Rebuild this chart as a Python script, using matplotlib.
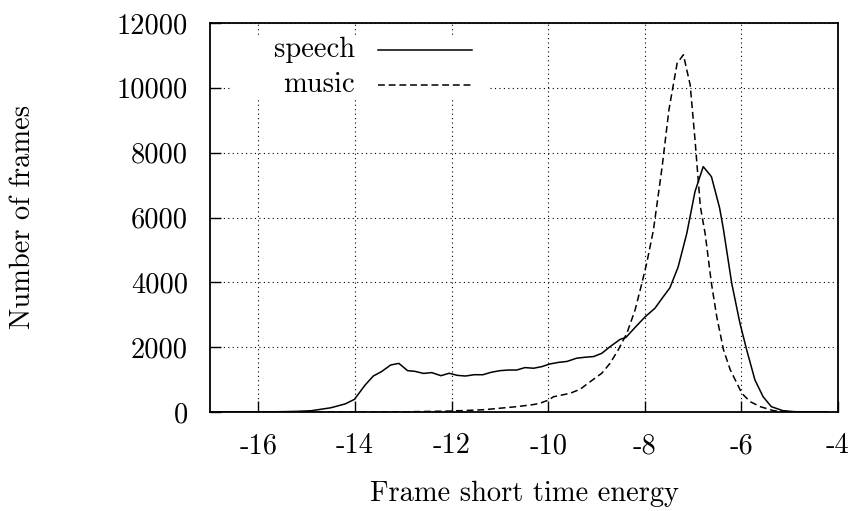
import matplotlib
matplotlib.use("Agg")
import matplotlib.pyplot as plt
from matplotlib.lines import Line2D
from matplotlib.patches import Rectangle

speech_x = [-17.0, -16.5, -16.0, -15.5, -15.2, -14.9, -14.5, -14.2, -14.01, -13.79, -13.62,
            -13.45, -13.26, -13.09, -12.91, -12.76, -12.58, -12.41, -12.22, -12.05, -11.88,
            -11.71, -11.53, -11.35, -11.18, -11.00, -10.82, -10.65, -10.48, -10.30, -10.13,
            -9.97, -9.79, -9.61, -9.41, -9.23, -9.06, -8.89, -8.72, -8.51, -8.39, -8.20,
            -7.99, -7.79, -7.64, -7.48, -7.31, -7.13, -6.96, -6.79, -6.62, -6.45, -6.37,
            -6.20, -6.03, -5.89, -5.72, -5.55, -5.38, -5.14, -4.90, -4.50, -4.20]
speech_y = [0, 0, 2, 10, 20, 40, 130, 250, 390, 830, 1110,
            1245, 1450, 1500, 1275, 1255, 1190, 1215, 1120, 1195, 1130,
            1110, 1150, 1150, 1225, 1275, 1295, 1295, 1370, 1350, 1400,
            1480, 1530, 1560, 1660, 1690, 1710, 1810, 2015, 2240, 2300, 2610,
            2940, 3200, 3510, 3830, 4470, 5510, 6800, 7570, 7260, 6290, 5620,
            3970, 2740, 1915, 990, 470, 165, 40, 10, 0, 0]

music_x = [-17.0, -15.0, -14.0, -13.0, -12.0, -11.33, -10.65, -10.30, -10.17, -9.99, -9.89,
           -9.55, -9.34, -9.13, -8.89, -8.72, -8.55, -8.37, -8.20, -8.06, -7.96, -7.82,
           -7.64, -7.50, -7.33, -7.20, -7.06, -6.96, -6.85, -6.75, -6.62, -6.51, -6.37,
           -6.23, -5.99, -5.82, -5.61, -5.33, -5.00, -4.50, -4.20]
music_y = [0, 0, 0, 5, 30, 70, 165, 230, 270, 370, 470,
           575, 700, 935, 1195, 1500, 1915, 2430, 3150, 3970, 4590, 5620,
           7570, 9320, 10760, 11020, 10090, 8400, 6340, 5500, 3970, 2940, 1915,
           1300, 575, 320, 165, 40, 5, 0, 0]

x_ticks = [-16, -14, -12, -10, -8, -6, -4]
y_ticks = [0, 2000, 4000, 6000, 8000, 10000, 12000]

FS = 20.5
plt.rcParams['font.family'] = ['cmr10', 'DejaVu Serif']
plt.rcParams['axes.unicode_minus'] = False

fig = plt.figure(figsize=(8.54, 5.11), dpi=100)
ax = fig.add_axes([210/854, 1-412/511, 628/854, 389/511])

ax.plot(speech_x, speech_y, color='black', lw=1.1, zorder=3)
ax.plot(music_x, music_y, color='black', lw=1.1, dashes=(4.5, 2.5), zorder=3)

ax.set_xlim(-17, -4)
ax.set_ylim(0, 12000)
ax.set_xticks(x_ticks)
ax.set_xticklabels([str(v) for v in x_ticks])
ax.set_yticks(y_ticks)
ax.set_yticklabels([str(v) for v in y_ticks])
ax.tick_params(direction='in', length=8, width=1.0, labelsize=FS)
ax.tick_params(axis='x', pad=15)
ax.tick_params(axis='y', pad=16)
ax.grid(True, color='black', linestyle=(0, (1, 3)), lw=0.8)
for s in ax.spines.values():
    s.set_linewidth(1.3)

fig.text(524/854, 1-494/511, 'Frame short time energy', fontsize=FS,
         ha='center', va='center')
fig.text(23/854, 1-217/511, 'Number of frames', fontsize=FS, rotation=90,
         ha='center', va='center')

# legend (gnuplot style)
ax.add_patch(Rectangle((0.035, 0.804), 0.41, 0.16, transform=ax.transAxes,
                       facecolor='white', edgecolor='none', zorder=4))
ax.text(0.231, 0.9306, 'speech', transform=ax.transAxes, ha='right', va='center',
        fontsize=FS, zorder=5)
ax.text(0.231, 0.8406, 'music', transform=ax.transAxes, ha='right', va='center',
        fontsize=FS, zorder=5)
ax.add_line(Line2D([0.2675, 0.417], [0.9306, 0.9306], transform=ax.transAxes,
                   color='black', lw=1.1, zorder=5))
ax.add_line(Line2D([0.2675, 0.417], [0.8406, 0.8406], transform=ax.transAxes,
                   color='black', lw=1.1, dashes=(4.5, 2.5), zorder=5))

fig.savefig('out.png', dpi=100)
